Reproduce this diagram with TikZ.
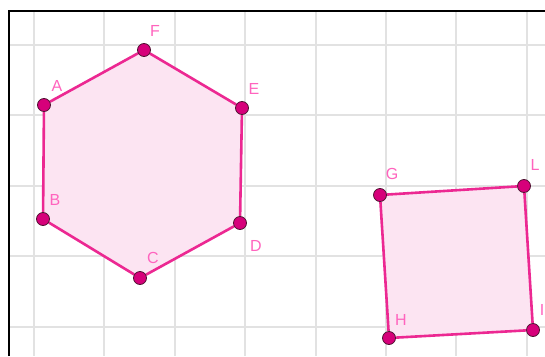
\documentclass[tikz,border=0pt]{standalone}
\usepackage{fontspec}
\setsansfont{Liberation Sans}
\usetikzlibrary{backgrounds}
\definecolor{edgepink}{RGB}{236,40,146}
\definecolor{ptfill}{RGB}{214,0,122}
\definecolor{ptdark}{RGB}{80,20,50}
\definecolor{polyfill}{RGB}{252,228,242}
\definecolor{lblpink}{RGB}{255,100,190}
\definecolor{gridgray}{RGB}{226,226,226}
\begin{document}
\begin{tikzpicture}[x=1pt,y=-1pt,vertex/.style={circle,draw=ptdark,fill=ptfill,minimum size=13,inner sep=0,line width=0.8},side/.style={edgepink,line width=2.6},lbl/.style={text=lblpink,inner sep=0,font=\sffamily\fontsize{16}{16}\selectfont}]
	\clip (0,0) rectangle (545,356);
	% hexagon
	\node at (44,105) [vertex] (A) {};
	\node at (43,219) [vertex] (B) {};
	\node at (140,278) [vertex] (C) {};
	\node at (240,223) [vertex] (D) {};
	\node at (242,108) [vertex] (E) {};
	\node at (144,50) [vertex] (F) {};
	% square
	\node at (380,195) [vertex] (G) {};
	\node at (389,338) [vertex] (H) {};
	\node at (533,330) [vertex] (I) {};
	\node at (524,186) [vertex] (L) {};
	% labels
	\node at (57,86) [lbl] (lA) {A};
	\node at (55,200) [lbl] (lB) {B};
	\node at (153,258) [lbl] (lC) {C};
	\node at (256,246) [lbl] (lD) {D};
	\node at (254,89) [lbl] (lE) {E};
	\node at (155,31) [lbl] (lF) {F};
	\node at (392,174) [lbl] (lG) {G};
	\node at (401,320) [lbl] (lH) {H};
	\node at (542,310) [lbl] (lI) {I};
	\node at (535,165) [lbl] (lL) {L};
	\begin{scope}[on background layer]
		\fill[white] (0,0) rectangle (545,356);
		\foreach \k in {0,...,7}
			\draw[gridgray,line width=2] (34+70.4*\k,11) -- (34+70.4*\k,356);
		\foreach \k in {0,...,4}
			\draw[gridgray,line width=2] (9,45+70.4*\k) -- (545,45+70.4*\k);
		\draw[black,line width=1.6] (9,356) -- (9,11) -- (545,11);
		\fill[polyfill] (A.center) -- (B.center) -- (C.center) -- (D.center) -- (E.center) -- (F.center) -- cycle;
		\fill[polyfill] (G.center) -- (H.center) -- (I.center) -- (L.center) -- cycle;
		\draw [side] (A) to (B);
		\draw [side] (B) to (C);
		\draw [side] (C) to (D);
		\draw [side] (D) to (E);
		\draw [side] (E) to (F);
		\draw [side] (F) to (A);
		\draw [side] (G) to (H);
		\draw [side] (H) to (I);
		\draw [side] (I) to (L);
		\draw [side] (L) to (G);
	\end{scope}
\end{tikzpicture}
\end{document}
